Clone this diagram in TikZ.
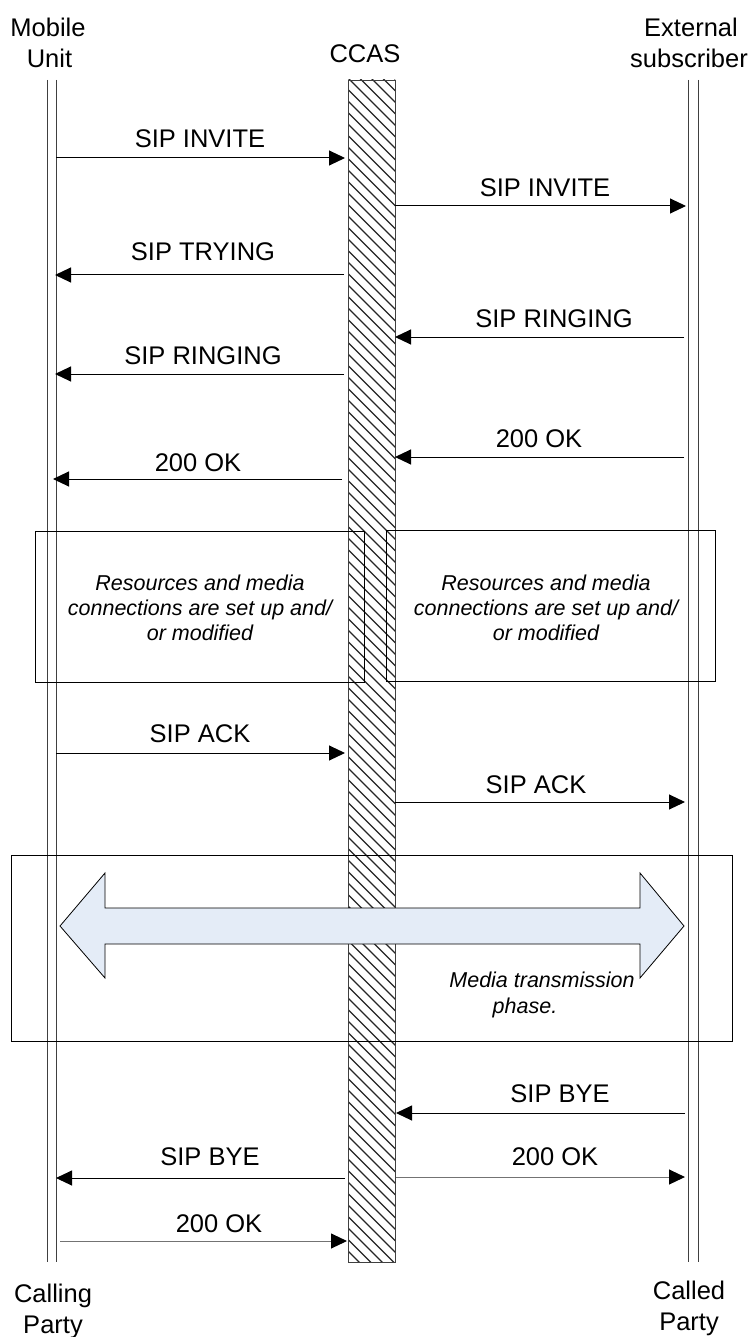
\documentclass[tikz,border=0pt]{standalone}
\usepackage{fontspec}
\setmainfont{Liberation Sans}
\usetikzlibrary{arrows.meta}
\definecolor{arrowfill}{HTML}{E4ECF7}
\begin{document}
\begin{tikzpicture}[x=1pt,y=-1pt,
  lbl/.style={font=\fontsize{25.5}{31}\selectfont, inner sep=0pt, anchor=base},
  note/.style={font=\fontsize{21.5}{25}\selectfont\itshape, inner sep=0pt, anchor=base},
  life/.style={draw=black!75, line width=0.9pt},
  msg/.style={draw=black, line width=1pt, -{Triangle[length=16pt,width=15pt,black]}},
  msggray/.style={msg, draw=black!55},
  frame/.style={draw=black, line width=1pt}]
\useasboundingbox (0,0) rectangle (755,1337);
% headers
\node[lbl] (hm1) at (48,37) {Mobile};
\node[lbl] (hm2) at (49.5,68) {Unit};
\node[lbl] (hc) at (365,63) {CCAS};
\node[lbl] (he1) at (691,37) {External};
\node[lbl] (he2) at (689,68) {subscriber};
\node[lbl] (fm1) at (53,1302) {Calling};
\node[lbl] (fm2) at (53,1333) {Party};
\node[lbl] (fe1) at (689,1299.5) {Called};
\node[lbl] (fe2) at (689,1330) {Party};
% lifelines
\draw[life] (47,80) -- (47,1262);
\draw[life] (56,80) -- (56,1262);
\draw[life] (688,80) -- (688,1262);
\draw[life] (698,80) -- (698,1262);
% CCAS hatched bar
\begin{scope}
\clip (348,80) rectangle (395,1262);
\foreach \i in {0,...,108} \draw[black!85, line width=1.2pt] (346,{30+\i*11.5}) -- ++(54,54);
\end{scope}
\node[draw=black!75, line width=0.9pt, minimum width=47pt, minimum height=1182pt, inner sep=0pt] (ccas) at (371.5,671) {};
% coordinates of message ends
\coordinate (a1) at (56,158);   \coordinate (b1) at (345,158);
\coordinate (a2) at (395,206);  \coordinate (b2) at (686,206);
\coordinate (a3) at (344,275);  \coordinate (b3) at (55,275);
\coordinate (a4) at (684,337);  \coordinate (b4) at (395,337);
\coordinate (a5) at (344,374);  \coordinate (b5) at (55,374);
\coordinate (a6) at (684,457);  \coordinate (b6) at (395,457);
\coordinate (a7) at (342,479);  \coordinate (b7) at (53,479);
\coordinate (a8) at (56,753);   \coordinate (b8) at (345,753);
\coordinate (a9) at (395,802);  \coordinate (b9) at (685,802);
\coordinate (a10) at (685,1113); \coordinate (b10) at (396,1113);
\coordinate (a11) at (345,1178); \coordinate (b11) at (56,1178);
\coordinate (a12) at (396,1177); \coordinate (b12) at (685,1177);
\coordinate (a13) at (60,1241);  \coordinate (b13) at (347,1241);
% messages
\draw[msg] (a1) -- (b1);
\draw[msg] (a2) -- (b2);
\draw[msg] (a3) -- (b3);
\draw[msg] (a4) -- (b4);
\draw[msg] (a5) -- (b5);
\draw[msg] (a6) -- (b6);
\draw[msg] (a7) -- (b7);
\draw[msg] (a8) -- (b8);
\draw[msg] (a9) -- (b9);
\draw[msg] (a10) -- (b10);
\draw[msg] (a11) -- (b11);
\draw[msggray] (a12) -- (b12);
\draw[msggray] (a13) -- (b13);
% message labels
\node[lbl] (l1) at (200,148) {SIP INVITE};
\node[lbl] (l2) at (545,197) {SIP INVITE};
\node[lbl] (l3) at (203,261) {SIP TRYING};
\node[lbl] (l4) at (554,327) {SIP RINGING};
\node[lbl] (l5) at (203,364) {SIP RINGING};
\node[lbl] (l6) at (539,447) {200 OK};
\node[lbl] (l7) at (198,471) {200 OK};
\node[lbl] (l8) at (200,742) {SIP ACK};
\node[lbl] (l9) at (536,793) {SIP ACK};
\node[lbl] (l10) at (560,1102) {SIP BYE};
\node[lbl] (l11) at (210,1165) {SIP BYE};
\node[lbl] (l12) at (555,1165) {200 OK};
\node[lbl] (l13) at (219,1232) {200 OK};
% resource boxes
\node[frame, minimum width=329pt, minimum height=151pt, inner sep=0pt] (boxl) at (199.5,606.5) {};
\node[frame, minimum width=329pt, minimum height=151pt, inner sep=0pt] (boxr) at (551,605.5) {};
\node[note] (nl1) at (200,590) {Resources and media};
\node[note] (nl2) at (200,615) {connections are set up and/};
\node[note] (nl3) at (200,640) {or modified};
\node[note] (nr1) at (546,590) {Resources and media};
\node[note] (nr2) at (546,615) {connections are set up and/};
\node[note] (nr3) at (546,640) {or modified};
% media phase
\node[frame, minimum width=721pt, minimum height=186pt, inner sep=0pt] (media) at (372,948) {};
\draw[black, line width=0.8pt, fill=arrowfill]
  (60,926) -- (105,873) -- (105,908) -- (640,908) -- (640,873) -- (684,926)
  -- (640,978) -- (640,944) -- (105,944) -- (105,978) -- cycle;
\node[note] (mt1) at (542,987) {Media transmission};
\node[note] (mt2) at (525,1013) {phase.};
\end{tikzpicture}
\end{document}
